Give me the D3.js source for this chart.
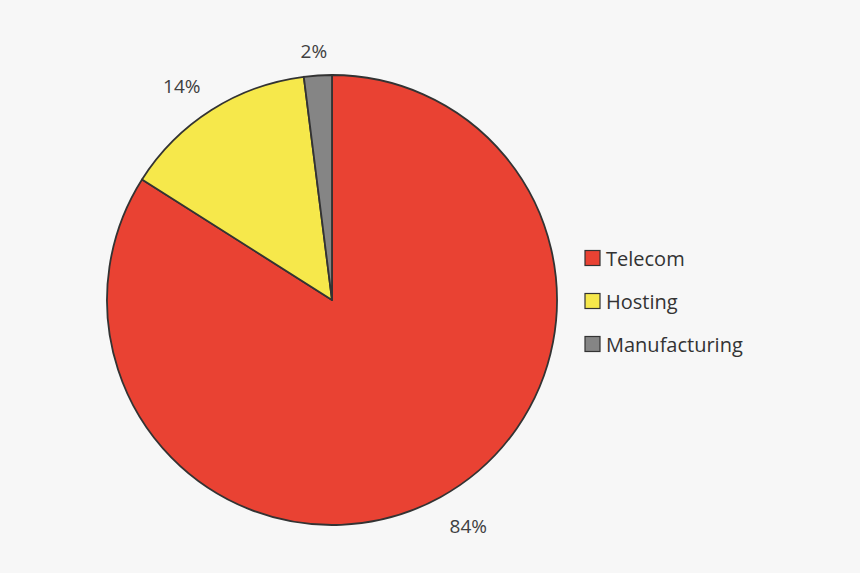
<!DOCTYPE html>
<html><head><meta charset="utf-8">
<script src="https://cdn.jsdelivr.net/npm/d3@7"></script>
<style>body{margin:0;background:#f7f7f7;}</style>
</head><body>
<svg id="c" width="860" height="573"></svg>
<script>
const categories = ["Telecom", "Hosting", "Manufacturing"];
const values = [84, 14, 2];
const labels = ["84%", "14%", "2%"];
const colors = ["#e94233", "#f6e84b", "#858585"];

const svg = d3.select("#c");
svg.append("rect").attr("width",860).attr("height",573).attr("fill","#f7f7f7");
const g = svg.append("g").attr("transform","translate(332,300)");
const pie = d3.pie().sort(null).value(d=>d)(values);
const arc = d3.arc().innerRadius(0).outerRadius(225);
g.selectAll("path").data(pie).join("path")
  .attr("d", arc).attr("fill",(d,i)=>colors[i])
  .attr("stroke","#333").attr("stroke-width",1.8).attr("stroke-linejoin","round");
const la = d3.arc().innerRadius(258).outerRadius(258);
const adj = [[12,0],[-12,4],[-2,8]];
g.selectAll("text").data(pie).join("text")
  .attr("x",(d,i)=>la.centroid(d)[0]+adj[i][0])
  .attr("y",(d,i)=>la.centroid(d)[1]+adj[i][1])
  .attr("text-anchor","middle").attr("dominant-baseline","central")
  .attr("font-family","Open Sans, sans-serif").attr("font-size",19).attr("fill","#404040")
  .text((d,i)=>labels[i]);
const leg = svg.append("g");
categories.forEach((c,i)=>{
  const y = 258 + i*43;
  leg.append("rect").attr("x",585).attr("y",y-7.5).attr("width",15).attr("height",15)
    .attr("fill",colors[i]).attr("stroke","#333").attr("stroke-width",1.2);
  leg.append("text").attr("x",606).attr("y",y).attr("dominant-baseline","central")
    .attr("font-family","Open Sans, sans-serif").attr("font-size",20).attr("fill","#333").text(c);
});
</script>
</body></html>
